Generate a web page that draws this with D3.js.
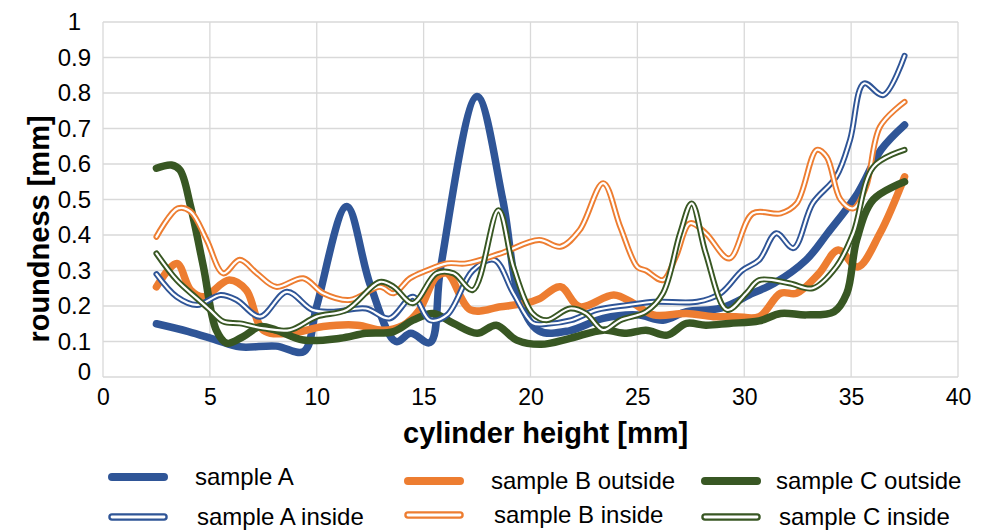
<!DOCTYPE html>
<html>
<head>
<meta charset="utf-8">
<script src="https://cdn.jsdelivr.net/npm/d3@7"></script>
<style>
  body { margin: 0; background: #fff; }
  text { font-family: "Liberation Sans", Arial, sans-serif; fill: #000; }
</style>
</head>
<body>
<div id="chart"></div>
<script>
// values: [cylinder height mm, roundness mm]
var sampleA = [[2.5,0.15],[4.0,0.128],[5.3,0.104],[6.4,0.085],[8.1,0.087],[9.4,0.072],[10.0,0.2],[11.4,0.48],[12.5,0.26],[13.7,0.1],[14.4,0.123],[15.3,0.097],[15.8,0.31],[17.5,0.79],[18.7,0.5],[19.5,0.217],[20.4,0.13],[21.8,0.13],[23.4,0.165],[25,0.175],[26.2,0.16],[27.3,0.184],[28.9,0.194],[30.4,0.236],[31.4,0.264],[32.9,0.33],[33.9,0.405],[35.3,0.517],[36.4,0.64],[37.5,0.71]];
var sampleAInside = [[2.5,0.29],[3.45,0.226],[4.4,0.203],[5.5,0.231],[6.25,0.217],[7.35,0.17],[8.6,0.24],[9.8,0.189],[10.8,0.184],[12.3,0.193],[13.4,0.165],[14.5,0.226],[15.3,0.16],[16.1,0.175],[17.3,0.3],[18.3,0.33],[19.2,0.236],[20.1,0.152],[20.8,0.15],[21.9,0.16],[23.1,0.189],[24.6,0.203],[25.8,0.212],[27.8,0.212],[28.9,0.236],[29.9,0.3],[30.7,0.33],[31.5,0.405],[32.3,0.363],[33.2,0.489],[34.3,0.564],[34.95,0.668],[35.6,0.827],[36.5,0.794],[37.5,0.905]];
var sampleBOutside = [[2.5,0.254],[3.45,0.32],[4.1,0.245],[4.7,0.226],[5.9,0.273],[6.7,0.245],[7.5,0.132],[8.75,0.123],[10.3,0.142],[11.9,0.146],[13.1,0.132],[14.05,0.146],[14.8,0.189],[15.6,0.283],[16.1,0.292],[17.2,0.189],[18.6,0.198],[19.8,0.208],[20.4,0.22],[21.4,0.254],[22.3,0.198],[23.9,0.231],[24.8,0.208],[25.75,0.175],[27.3,0.179],[28.55,0.17],[29.6,0.17],[30.7,0.17],[31.7,0.236],[32.45,0.236],[33.5,0.292],[34.4,0.358],[35.3,0.31],[36.35,0.405],[37.5,0.564]];
var sampleBInside = [[2.5,0.395],[3.5,0.475],[4.1,0.466],[4.85,0.386],[5.63,0.292],[6.4,0.33],[7.2,0.292],[8.1,0.254],[9.37,0.278],[10.3,0.236],[11.55,0.217],[12.96,0.254],[13.6,0.236],[14.36,0.278],[15.14,0.3],[16.1,0.32],[17.0,0.32],[18.6,0.348],[20.4,0.386],[21.4,0.367],[22.3,0.414],[23.4,0.546],[24.2,0.423],[25,0.31],[25.4,0.3],[26.2,0.273],[26.8,0.339],[27.46,0.433],[28.2,0.405],[29.3,0.334],[30.4,0.461],[31.7,0.461],[32.45,0.489],[33.4,0.64],[33.86,0.62],[34.5,0.5],[35.1,0.475],[35.7,0.536],[36.35,0.705],[37.5,0.775]];
var sampleCOutside = [[2.5,0.588],[3.2,0.597],[3.6,0.583],[4.1,0.48],[4.7,0.31],[5.3,0.132],[5.8,0.095],[6.56,0.114],[7.35,0.142],[8.1,0.132],[9.37,0.104],[11.1,0.109],[12.3,0.123],[13.6,0.128],[14.5,0.16],[15.45,0.179],[16.4,0.151],[17.5,0.123],[18.4,0.146],[19.35,0.104],[20.5,0.092],[21.85,0.109],[23.4,0.132],[24.5,0.123],[25.4,0.132],[26.4,0.118],[27.3,0.151],[28.2,0.146],[29.3,0.151],[30.7,0.158],[31.7,0.179],[32.9,0.175],[34.2,0.184],[34.8,0.236],[35.26,0.386],[36.04,0.5],[37.5,0.55]];
var sampleCInside = [[2.5,0.348],[3.45,0.273],[4.38,0.222],[5.0,0.189],[5.63,0.156],[6.4,0.151],[7.5,0.137],[8.75,0.132],[10,0.17],[11.4,0.189],[12.96,0.268],[13.6,0.254],[14.5,0.208],[15.6,0.292],[16.4,0.292],[17.3,0.245],[18.5,0.47],[19.2,0.31],[20.1,0.179],[20.76,0.16],[21.85,0.193],[22.6,0.179],[23.4,0.132],[24.2,0.16],[25.4,0.184],[26.2,0.236],[27.0,0.405],[27.54,0.489],[28.2,0.348],[29.2,0.189],[30.1,0.236],[30.7,0.273],[32.1,0.264],[33.2,0.25],[34.3,0.31],[35.1,0.405],[36.04,0.592],[37.5,0.64]];

var xTicks = [0, 5, 10, 15, 20, 25, 30, 35, 40];
var yTicks = [0, 0.1, 0.2, 0.3, 0.4, 0.5, 0.6, 0.7, 0.8, 0.9, 1];

var blue = "#2f5597", orange = "#ed7d31", green = "#385723";

// series in drawing order, thick ones first
var series = [
  { name: "sample A", data: sampleA, color: blue, inside: false },
  { name: "sample B outside", data: sampleBOutside, color: orange, inside: false },
  { name: "sample C outside", data: sampleCOutside, color: green, inside: false },
  { name: "sample A inside", data: sampleAInside, color: blue, inside: true },
  { name: "sample B inside", data: sampleBInside, color: orange, inside: true },
  { name: "sample C inside", data: sampleCInside, color: green, inside: true }
];

var width = 984, height = 531;
var plotLeft = 103, plotRight = 958, plotTop = 22, plotBottom = 377;

var svg = d3.select("#chart").append("svg")
  .attr("width", width)
  .attr("height", height);

var x = d3.scaleLinear().domain([0, 40]).range([plotLeft, plotRight]);
var y = d3.scaleLinear().domain([0, 1]).range([plotBottom, plotTop]);

// grid
svg.append("g").selectAll("line").data(yTicks).enter().append("line")
  .attr("x1", plotLeft).attr("x2", plotRight)
  .attr("y1", function(d) { return y(d); }).attr("y2", function(d) { return y(d); })
  .attr("stroke", "#d9d9d9").attr("stroke-width", 1.3);
svg.append("g").selectAll("line").data(xTicks).enter().append("line")
  .attr("x1", function(d) { return x(d); }).attr("x2", function(d) { return x(d); })
  .attr("y1", plotTop).attr("y2", plotBottom)
  .attr("stroke", "#d9d9d9").attr("stroke-width", 1.3);

// axes labels only (Excel style, no tick marks)
var yAxis = d3.axisLeft(y).tickValues(yTicks).tickSize(0).tickPadding(12)
  .tickFormat(function(d) { return d3.format("~g")(d); });
var yg = svg.append("g").attr("transform", "translate(" + plotLeft + ",0)").call(yAxis);
var xAxis = d3.axisBottom(x).tickValues(xTicks).tickSize(0).tickPadding(12);
var xg = svg.append("g").attr("transform", "translate(0," + plotBottom + ")").call(xAxis);
[yg, xg].forEach(function(g) {
  g.select(".domain").remove();
  g.selectAll("text").attr("font-family", "Liberation Sans, Arial, sans-serif").attr("fill", "#000");
});
yg.selectAll("text").attr("font-size", 24);
xg.selectAll("text").attr("font-size", 23);
yg.selectAll(".tick").filter(function(d) { return d === 0; }).select("text").attr("dy", "0.1em");
yg.selectAll(".tick").filter(function(d) { return d === 1; }).select("text").attr("x", -22);

// lines
var line = d3.line()
  .x(function(d) { return x(d[0]); })
  .y(function(d) { return y(d[1]); })
  .curve(d3.curveCatmullRom.alpha(0.5));

series.forEach(function(s) {
  if (!s.inside) {
    svg.append("path").attr("d", line(s.data)).attr("fill", "none")
      .attr("stroke", s.color).attr("stroke-width", 7.5)
      .attr("stroke-linecap", "round").attr("stroke-linejoin", "round");
  } else {
    svg.append("path").attr("d", line(s.data)).attr("fill", "none")
      .attr("stroke", s.color).attr("stroke-width", 6)
      .attr("stroke-linecap", "round").attr("stroke-linejoin", "round");
    svg.append("path").attr("d", line(s.data)).attr("fill", "none")
      .attr("stroke", "#fff").attr("stroke-width", 2.2)
      .attr("stroke-linecap", "round").attr("stroke-linejoin", "round");
  }
});

// axis titles
svg.append("text")
  .attr("x", 403).attr("y", 443)
  .attr("font-size", 29).attr("font-weight", "bold")
  .text("cylinder height [mm]");
svg.append("text")
  .attr("transform", "translate(49,229) rotate(-90)")
  .attr("text-anchor", "middle")
  .attr("font-size", 29).attr("font-weight", "bold")
  .text("roundness [mm]");

// legend
var legendPos = [
  { lx: 108, tx: 195, ly: 477 },
  { lx: 404, tx: 491, ly: 481 },
  { lx: 701, tx: 776, ly: 481 },
  { lx: 108, tx: 197, ly: 517 },
  { lx: 404, tx: 494, ly: 515 },
  { lx: 701, tx: 779, ly: 517 }
];
series.forEach(function(s, k) {
  var p = legendPos[k];
  var g = svg.append("g");
  if (!s.inside) {
    g.append("line").attr("x1", p.lx + 4).attr("x2", p.lx + 56)
      .attr("y1", p.ly).attr("y2", p.ly)
      .attr("stroke", s.color).attr("stroke-width", 8).attr("stroke-linecap", "round");
  } else {
    g.append("line").attr("x1", p.lx + 4).attr("x2", p.lx + 56)
      .attr("y1", p.ly).attr("y2", p.ly)
      .attr("stroke", s.color).attr("stroke-width", 7.5).attr("stroke-linecap", "round");
    g.append("line").attr("x1", p.lx + 4).attr("x2", p.lx + 56)
      .attr("y1", p.ly).attr("y2", p.ly)
      .attr("stroke", "#fff").attr("stroke-width", 2.8).attr("stroke-linecap", "round");
  }
  g.append("text").attr("x", p.tx).attr("y", p.ly).attr("dy", "0.35em")
    .attr("font-size", 24).text(s.name);
});
</script>
</body>
</html>
